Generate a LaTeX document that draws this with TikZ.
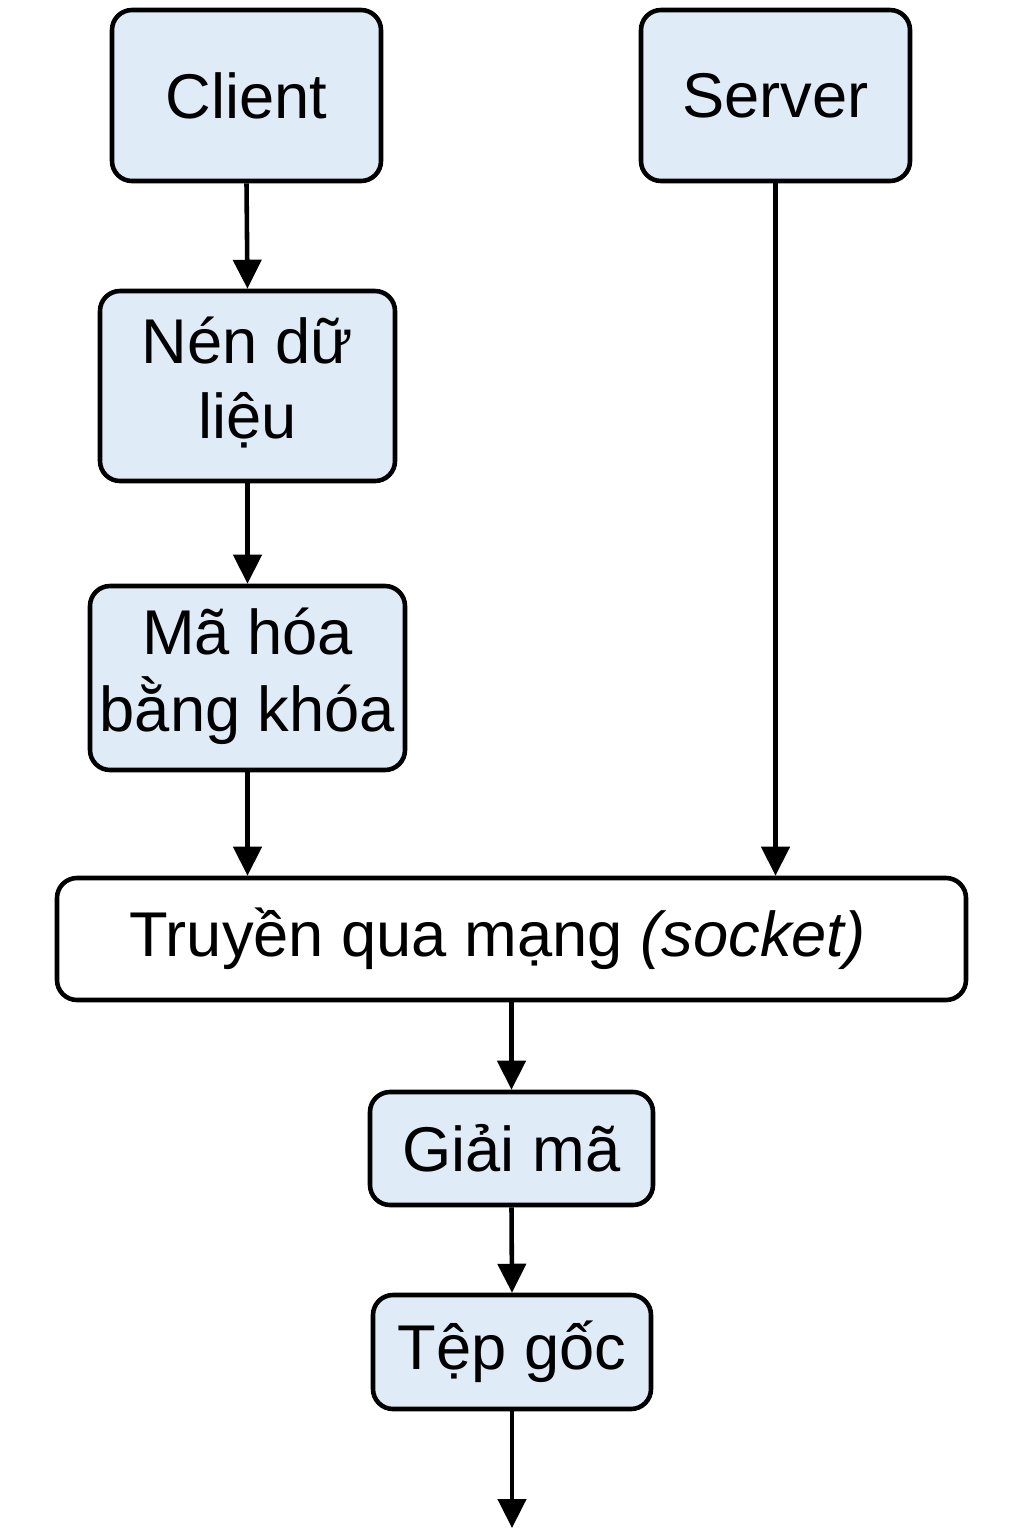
\documentclass[tikz,border=0pt]{standalone}
\usepackage{fontspec}
\setmainfont{Liberation Sans}
\usetikzlibrary{arrows.meta}
\definecolor{boxblue}{RGB}{223,235,246}
\begin{document}
\begin{tikzpicture}[x=0.02cm,y=-0.02cm,
  box/.style={draw=black, line width=2.6pt, rounded corners=0.4cm, fill=boxblue, inner sep=0pt,
    align=center, font=\fontsize{36}{43}\selectfont},
  wbox/.style={box, fill=white},
  arr/.style={line width=2.6pt, -{Triangle[length=0.58cm,width=0.56cm]}}]
\useasboundingbox (0,0) rectangle (1024,1536);
\node[box, minimum width=269*0.02cm, minimum height=171*0.02cm] (client) at (246.5,95.5) {Client};
\node[box, minimum width=269*0.02cm, minimum height=171*0.02cm] (server) at (775.5,95.5) {Server};
\node[box, minimum width=295*0.02cm, minimum height=190*0.02cm] (nen) at (247.5,386) {\raisebox{-0.08cm}{\begin{tabular}{@{}c@{}}Nén dữ\\liệu\end{tabular}}};
\node[box, minimum width=315*0.02cm, minimum height=184*0.02cm] (ma) at (247.5,678) {\raisebox{-0.08cm}{\begin{tabular}{@{}c@{}}Mã hóa\\bằng khóa\end{tabular}}};
\node[wbox, minimum width=909*0.02cm, minimum height=122*0.02cm] (truyen) at (511.5,939) {Truyền qua mạng \textit{(socket)}\hspace*{0.56cm}};
\node[box, minimum width=283*0.02cm, minimum height=113*0.02cm] (giai) at (511.5,1148.5) {Giải mã};
\node[box, minimum width=278*0.02cm, minimum height=114*0.02cm] (tep) at (512,1352) {Tệp gốc};
\coordinate (end) at (512,1528);
\draw[arr] (client.south) -- (nen.north);
\draw[arr] (nen.south) -- (ma.north);
\draw[arr] (ma.south) -- (ma.south |- truyen.north);
\draw[arr] (server.south) -- (server.south |- truyen.north);
\draw[arr] (truyen.south) -- (giai.north);
\draw[arr] (giai.south) -- (tep.north);
\draw[arr] (tep.south) -- (end);
\end{tikzpicture}
\end{document}
